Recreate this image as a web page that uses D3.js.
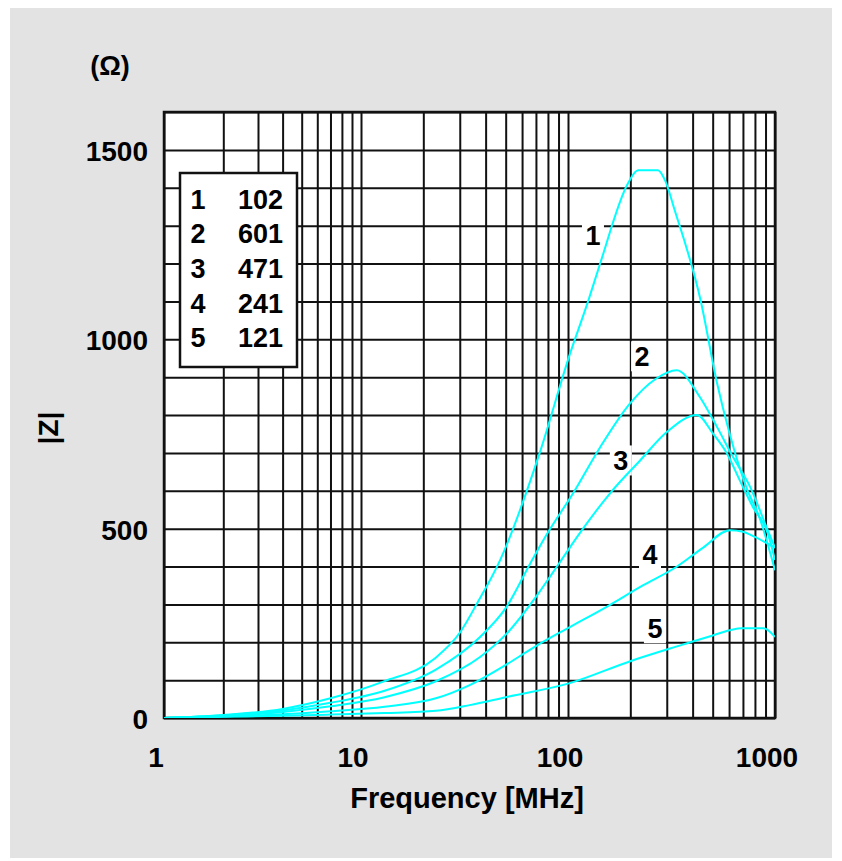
<!DOCTYPE html>
<html>
<head>
<meta charset="utf-8">
<script src="https://cdn.jsdelivr.net/npm/d3@7"></script>
<style>
  body { margin: 0; background: #fff; }
  text { font-family: "Liberation Sans", Arial, sans-serif; font-weight: bold; fill: #000; }
</style>
</head>
<body>
<svg id="chart" width="842" height="861"></svg>
<script>
// tick values / labels
const xTickValues = [1, 10, 100, 1000];
const xTickLabels = ["1", "10", "100", "1000"];
const yTickValues = [0, 500, 1000, 1500];
const yTickLabels = ["0", "500", "1000", "1500"];

// legend: curve number and part code
const legendNums = ["1", "2", "3", "4", "5"];
const legendCodes = ["102", "601", "471", "241", "121"];

// |Z| (ohm) vs frequency (MHz)
const curve1F = [1, 2, 4, 7, 12.8, 22.8, 30, 36.4, 47, 73, 102, 125, 143, 195, 218, 272, 294, 328, 437, 525, 603, 727, 840, 1000];
const curve1Z = [0, 8, 24, 52, 96, 158, 225, 303, 417, 700, 960, 1100, 1200, 1412, 1446, 1446, 1420, 1340, 1103, 884, 752, 609, 530, 390];

const curve2F = [1, 2, 4, 7, 13, 23, 37.6, 50, 66, 79, 106, 143, 199, 265, 335, 434, 525, 627, 760, 922, 1000];
const curve2Z = [0, 7, 20, 40, 72, 128, 214, 290, 410, 485, 594, 715, 830, 895, 918, 847, 768, 689, 609, 496, 449];

const curve3F = [1, 2, 4, 7, 13, 23, 37.6, 50, 70, 91, 114, 160, 223, 300, 420, 500, 585, 675, 782, 922, 1000];
const curve3Z = [0, 5, 16, 31, 55, 97, 161, 220, 320, 410, 488, 594, 680, 755, 800, 752, 699, 628, 557, 488, 417];

const curve4F = [1, 2, 4, 7, 13, 23, 33.5, 50, 70, 102, 153, 230, 332, 450, 606, 700, 800, 1000];
const curve4Z = [0, 4, 10, 18, 30, 52, 87, 140, 190, 240, 293, 350, 398, 450, 496, 492, 478, 450];

const curve5F = [1, 2, 4, 7, 13, 23, 33.5, 50, 102, 200, 355, 500, 690, 880, 1000];
const curve5Z = [0, 3, 6, 9, 13, 19, 34, 55, 92, 150, 193, 218, 237, 237, 214];

// where the number of each curve is printed
const curveLabelF = [132, 228, 180, 249, 263];
const curveLabelZ = [1275, 955, 680, 432, 237];

const curves = [
  { f: curve1F, z: curve1Z },
  { f: curve2F, z: curve2Z },
  { f: curve3F, z: curve3Z },
  { f: curve4F, z: curve4Z },
  { f: curve5F, z: curve5Z },
];

const svg = d3.select("#chart");

const plotL = 164, plotR = 775, plotT = 112, plotB = 718;

// the printed grid is not quite a true log scale, so map each decade on its own
const x = d3.scaleLog().domain([1, 10, 100, 1000]).range([plotL, 361, 568, plotR]);
const y = d3.scaleLinear().domain([0, 1600]).range([plotB, plotT]);

// grey card
svg.append("rect")
  .attr("x", 10).attr("y", 8)
  .attr("width", 822).attr("height", 850)
  .attr("fill", "#e3e3e3");

svg.append("rect")
  .attr("x", plotL).attr("y", plotT)
  .attr("width", plotR - plotL).attr("height", plotB - plotT)
  .attr("fill", "#fff");

// grid
const gridX = [];
for (let d = 1; d < 1000; d *= 10) {
  for (let k = 1; k < 10; k++) gridX.push(d * k);
}
gridX.push(1000);
const gridY = d3.range(0, 1601, 100);

svg.append("g")
  .attr("transform", `translate(0,${plotB})`)
  .call(d3.axisBottom(x).tickValues(gridX).tickSize(-(plotB - plotT)).tickFormat(""))
  .call(g => g.select(".domain").remove())
  .selectAll("line").attr("stroke", "#111").attr("stroke-width", 2);

svg.append("g")
  .attr("transform", `translate(${plotL},0)`)
  .call(d3.axisLeft(y).tickValues(gridY).tickSize(-(plotR - plotL)).tickFormat(""))
  .call(g => g.select(".domain").remove())
  .selectAll("line").attr("stroke", "#111").attr("stroke-width", 2);

svg.append("rect")
  .attr("x", plotL).attr("y", plotT)
  .attr("width", plotR - plotL).attr("height", plotB - plotT)
  .attr("fill", "none").attr("stroke", "#111").attr("stroke-width", 2.5);

// curves
svg.append("clipPath").attr("id", "plotclip")
  .append("rect")
  .attr("x", plotL).attr("y", plotT)
  .attr("width", plotR - plotL).attr("height", plotB - plotT);

const line = d3.line()
  .x(d => x(d[0]))
  .y(d => y(d[1]))
  .curve(d3.curveMonotoneX);

// curve numbers, with a white patch behind like the print
const cl = svg.append("g").selectAll("g")
  .data(legendNums)
  .enter()
  .append("g")
  .attr("transform", (d, i) => `translate(${x(curveLabelF[i])},${y(curveLabelZ[i])})`);
cl.append("rect")
  .attr("x", -11).attr("y", -15)
  .attr("width", 22).attr("height", 30)
  .attr("fill", "#fff");
cl.append("text")
  .attr("text-anchor", "middle")
  .attr("dy", "0.36em")
  .style("font-size", "27px")
  .text(d => d);

svg.append("g").attr("clip-path", "url(#plotclip)")
  .selectAll("path")
  .data(curves)
  .enter()
  .append("path")
  .attr("d", c => line(c.f.map((f, i) => [f, c.z[i]])))
  .attr("fill", "none")
  .attr("stroke", "#00ffff")
  .attr("stroke-width", 2);

// axis labels
svg.append("g")
  .selectAll("text")
  .data(xTickValues)
  .enter()
  .append("text")
  .attr("x", d => x(d) - 8)
  .attr("y", 757)
  .attr("dy", "0.36em")
  .attr("text-anchor", "middle")
  .style("font-size", "28px")
  .text((d, i) => xTickLabels[i]);

svg.append("g")
  .selectAll("text")
  .data(yTickValues)
  .enter()
  .append("text")
  .attr("x", 148)
  .attr("y", d => y(d) + 1)
  .attr("dy", "0.36em")
  .attr("text-anchor", "end")
  .style("font-size", "28px")
  .text((d, i) => yTickLabels[i]);

svg.append("text")
  .attr("x", 467).attr("y", 798)
  .attr("dy", "0.36em")
  .attr("text-anchor", "middle")
  .style("font-size", "29px")
  .text("Frequency [MHz]");

svg.append("text")
  .attr("x", 110).attr("y", 65)
  .attr("dy", "0.36em")
  .attr("text-anchor", "middle")
  .style("font-size", "27px")
  .text("(Ω)");

svg.append("text")
  .attr("transform", "translate(48,428) rotate(-90)")
  .attr("dy", "0.36em")
  .attr("text-anchor", "middle")
  .style("font-size", "28px")
  .text("|Z|");

// legend box
const lg = svg.append("g");
lg.append("rect")
  .attr("x", 180).attr("y", 173)
  .attr("width", 117).attr("height", 194)
  .attr("fill", "#fff")
  .attr("stroke", "#111").attr("stroke-width", 2.5);

const rows = lg.selectAll("g")
  .data(legendNums)
  .enter()
  .append("g")
  .attr("transform", (d, i) => `translate(0,${199 + i * 34.6})`);
rows.append("text")
  .attr("x", 198)
  .attr("dy", "0.36em")
  .attr("text-anchor", "middle")
  .style("font-size", "27px")
  .text(d => d);
rows.append("text")
  .attr("x", 238)
  .attr("dy", "0.36em")
  .style("font-size", "27px")
  .text((d, i) => legendCodes[i]);
</script>
</body>
</html>
